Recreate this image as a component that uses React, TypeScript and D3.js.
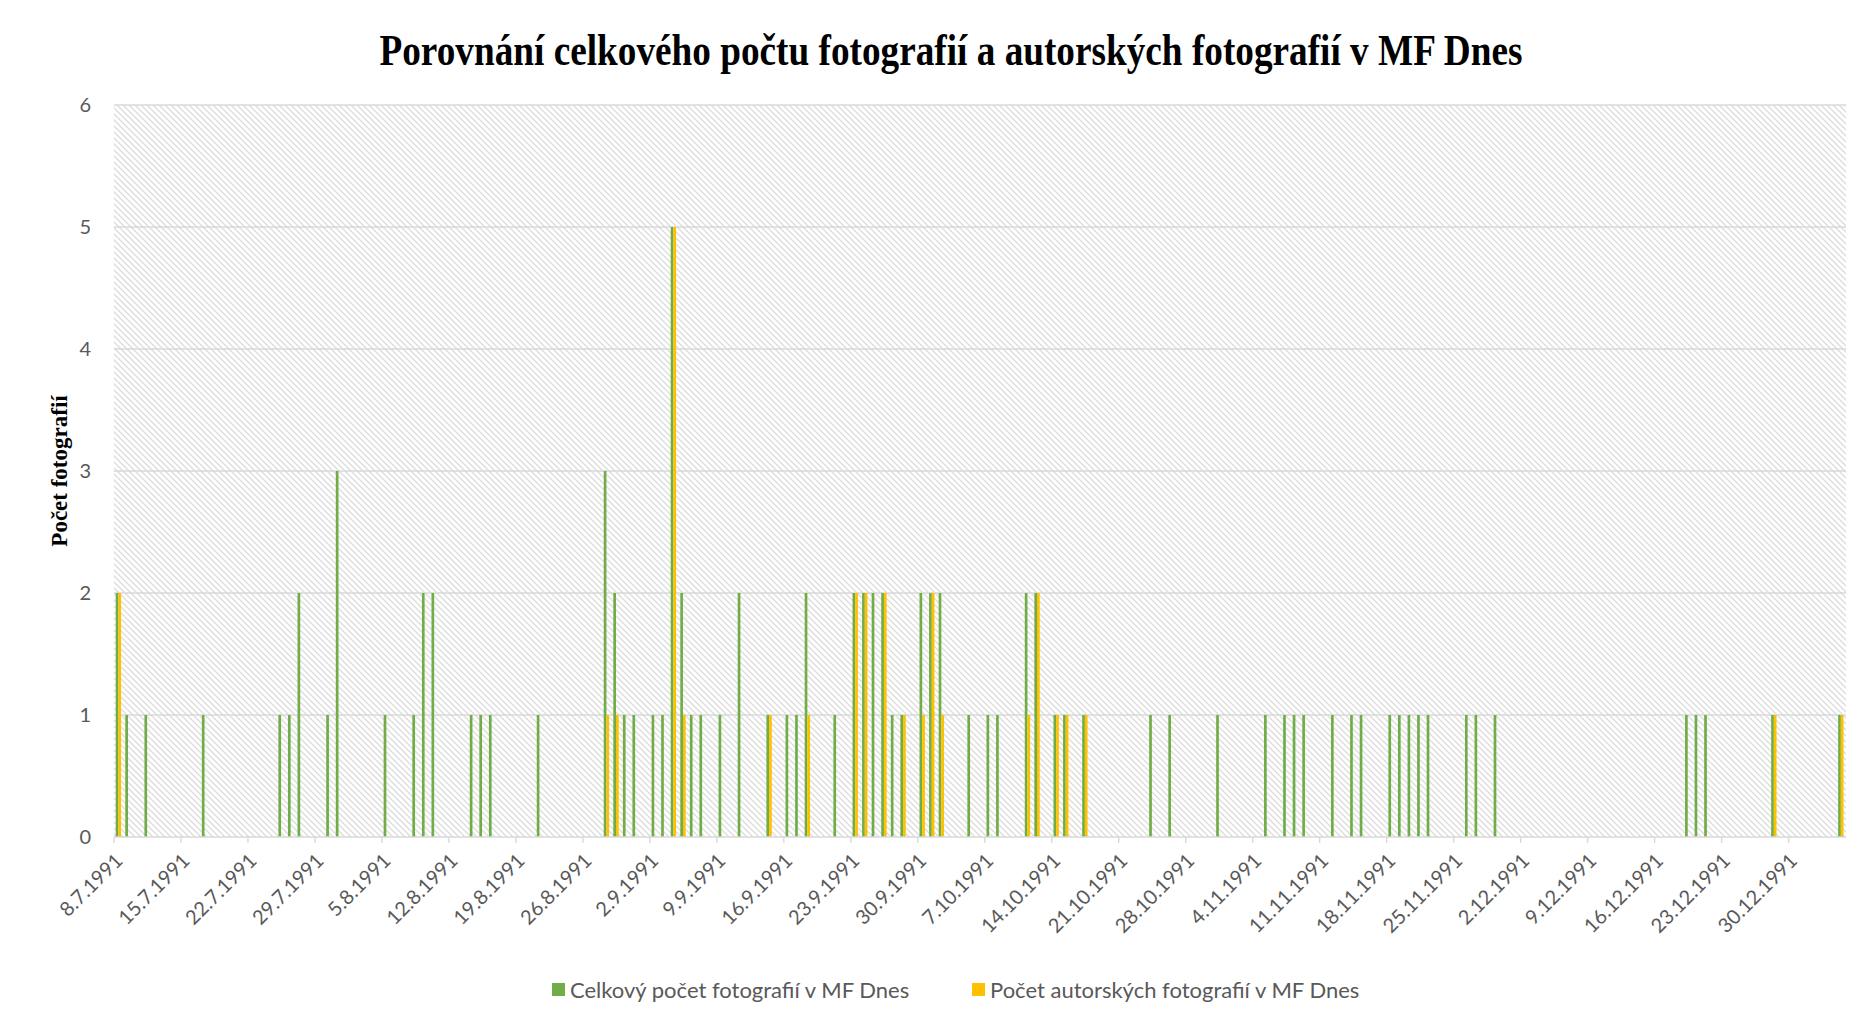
import React from 'react'
import * as d3 from 'd3'

// data (d.m.yyyy)
const totalDates = [
  '8.7.1991', '9.7.1991', '11.7.1991', '17.7.1991', '25.7.1991', '26.7.1991', '27.7.1991', '30.7.1991', '31.7.1991',
  '5.8.1991', '8.8.1991', '9.8.1991', '10.8.1991', '14.8.1991', '15.8.1991', '16.8.1991', '21.8.1991', '28.8.1991',
  '29.8.1991', '30.8.1991', '31.8.1991', '2.9.1991', '3.9.1991', '4.9.1991', '5.9.1991', '6.9.1991', '7.9.1991',
  '9.9.1991', '11.9.1991', '14.9.1991', '16.9.1991', '17.9.1991', '18.9.1991', '21.9.1991', '23.9.1991', '24.9.1991',
  '25.9.1991', '26.9.1991', '27.9.1991', '28.9.1991', '30.9.1991', '1.10.1991', '2.10.1991', '5.10.1991', '7.10.1991',
  '8.10.1991', '11.10.1991', '12.10.1991', '14.10.1991', '15.10.1991', '17.10.1991', '24.10.1991', '26.10.1991',
  '31.10.1991', '5.11.1991', '7.11.1991', '8.11.1991', '9.11.1991', '12.11.1991', '14.11.1991', '15.11.1991',
  '18.11.1991', '19.11.1991', '20.11.1991', '21.11.1991', '22.11.1991', '26.11.1991', '27.11.1991', '29.11.1991',
  '19.12.1991', '20.12.1991', '21.12.1991', '28.12.1991', '4.1.1992',
]
const totalValues = [
  2, 1, 1, 1, 1, 1, 2, 1, 3, 1,
  1, 2, 2, 1, 1, 1, 1, 3, 2, 1,
  1, 1, 1, 5, 2, 1, 1, 1, 2, 1,
  1, 1, 2, 1, 2, 2, 2, 2, 1, 1,
  2, 2, 2, 1, 1, 1, 2, 2, 1, 1,
  1, 1, 1, 1, 1, 1, 1, 1, 1, 1,
  1, 1, 1, 1, 1, 1, 1, 1, 1, 1,
  1, 1, 1, 1,
]

const authorDates = [
  '8.7.1991', '28.8.1991', '29.8.1991', '4.9.1991', '5.9.1991', '14.9.1991', '18.9.1991', '23.9.1991', '24.9.1991',
  '26.9.1991', '28.9.1991', '30.9.1991', '1.10.1991', '2.10.1991', '11.10.1991', '12.10.1991', '14.10.1991',
  '15.10.1991', '17.10.1991', '28.12.1991', '4.1.1992',
]
const authorValues = [2, 1, 1, 5, 1, 1, 1, 2, 2, 2, 1, 1, 2, 1, 1, 2, 1, 1, 1, 1, 1]

const xTickLabels = [
  '8.7.1991', '15.7.1991', '22.7.1991', '29.7.1991', '5.8.1991', '12.8.1991', '19.8.1991', '26.8.1991',
  '2.9.1991', '9.9.1991', '16.9.1991', '23.9.1991', '30.9.1991', '7.10.1991', '14.10.1991', '21.10.1991',
  '28.10.1991', '4.11.1991', '11.11.1991', '18.11.1991', '25.11.1991', '2.12.1991', '9.12.1991', '16.12.1991',
  '23.12.1991', '30.12.1991',
]
const yTicks = [0, 1, 2, 3, 4, 5, 6]

const seriesNames = ['Celkový počet fotografií v MF Dnes', 'Počet autorských fotografií v MF Dnes']
const seriesColors = ['#70AD47', '#FFC000']

const parseDate = (s: string) => {
  const [d, m, y] = s.split('.').map(Number)
  return new Date(Date.UTC(y, m - 1, d))
}

const W = 1872
const H = 1024
const left = 114
const right = 1846
const top = 105
const bottom = 837
const labelColor = '#595959'
const gridColor = '#D9D9D9'
const sans = 'Lato, "Open Sans", sans-serif'

export default function App() {
  const x = d3.scaleUtc()
    .domain([parseDate('8.7.1991'), d3.utcDay.offset(parseDate('4.1.1992'), 1)])
    .range([left, right])
  const y = d3.scaleLinear().domain([0, 6]).range([bottom, top])
  const dayW = x(parseDate('9.7.1991')) - x(parseDate('8.7.1991'))
  const barW = dayW * 0.28
  const off0 = dayW * 0.18

  const total = totalDates.map((d, i) => ({ date: parseDate(d), value: totalValues[i] }))
  const author = authorDates.map((d, i) => ({ date: parseDate(d), value: authorValues[i] }))

  return (
    <svg width={W} height={H} style={{ position: 'absolute', left: 0, top: 0, background: '#fff' }}>
      <defs>
        <pattern id="hatch" width="6" height="6" patternUnits="userSpaceOnUse">
          <rect width="6" height="6" fill="#fff" />
          <path d="M0,0L6,6M-1,5L1,7M5,-1L7,1" stroke="#dcdcdc" strokeWidth="1.3" />
        </pattern>
      </defs>

      <text x={951} y={65} textAnchor="middle" fontFamily='"Liberation Serif", "Times New Roman", serif'
        fontWeight="bold" fontSize={45} textLength={1143} lengthAdjust="spacingAndGlyphs" fill="#000">
        Porovnání celkového počtu fotografií a autorských fotografií v MF Dnes
      </text>

      <rect x={left} y={top} width={right - left} height={bottom - top} fill="url(#hatch)" />

      {yTicks.filter(t => t > 0).map(t => (
        <line key={t} x1={left} x2={right} y1={y(t)} y2={y(t)} stroke={gridColor} strokeWidth={1.4} />
      ))}

      {yTicks.map(t => (
        <text key={t} x={91} y={y(t)} dy="0.35em" textAnchor="end" fontFamily={sans} fontSize={20} fill={labelColor}>
          {t}
        </text>
      ))}

      <g fill={seriesColors[0]}>
        {total.map((d, i) => (
          <rect key={i} x={x(d.date) + off0} y={y(d.value)} width={barW} height={y(0) - y(d.value)} />
        ))}
      </g>
      <g fill={seriesColors[1]}>
        {author.map((d, i) => (
          <rect key={i} x={x(d.date) + off0 + barW} y={y(d.value)} width={barW} height={y(0) - y(d.value)} />
        ))}
      </g>

      <line x1={left} x2={right} y1={bottom} y2={bottom} stroke={gridColor} strokeWidth={1.6} />
      {xTickLabels.map(s => {
        const tx = x(parseDate(s))
        return (
          <g key={s}>
            <line x1={tx} x2={tx} y1={bottom} y2={bottom + 6} stroke={gridColor} strokeWidth={1.4} />
            <text transform={`translate(${tx + 5},${bottom + 20}) rotate(-45)`} textAnchor="end" dy="0.35em"
              fontFamily={sans} fontSize={20} fill={labelColor}>
              {s}
            </text>
          </g>
        )
      })}

      <text transform="translate(67,471) rotate(-90)" textAnchor="middle"
        fontFamily='"Liberation Serif", "Times New Roman", serif' fontWeight="bold" fontSize={23} fill="#000">
        Počet fotografií
      </text>

      {seriesNames.map((n, i) => {
        const lx = i === 0 ? 552 : 972
        return (
          <g key={n}>
            <rect x={lx} y={983} width={13} height={13} fill={seriesColors[i]} />
            <text x={lx + 18} y={990} dy="0.35em" fontFamily={sans} fontSize={22} fill={labelColor}>{n}</text>
          </g>
        )
      })}
    </svg>
  )
}
